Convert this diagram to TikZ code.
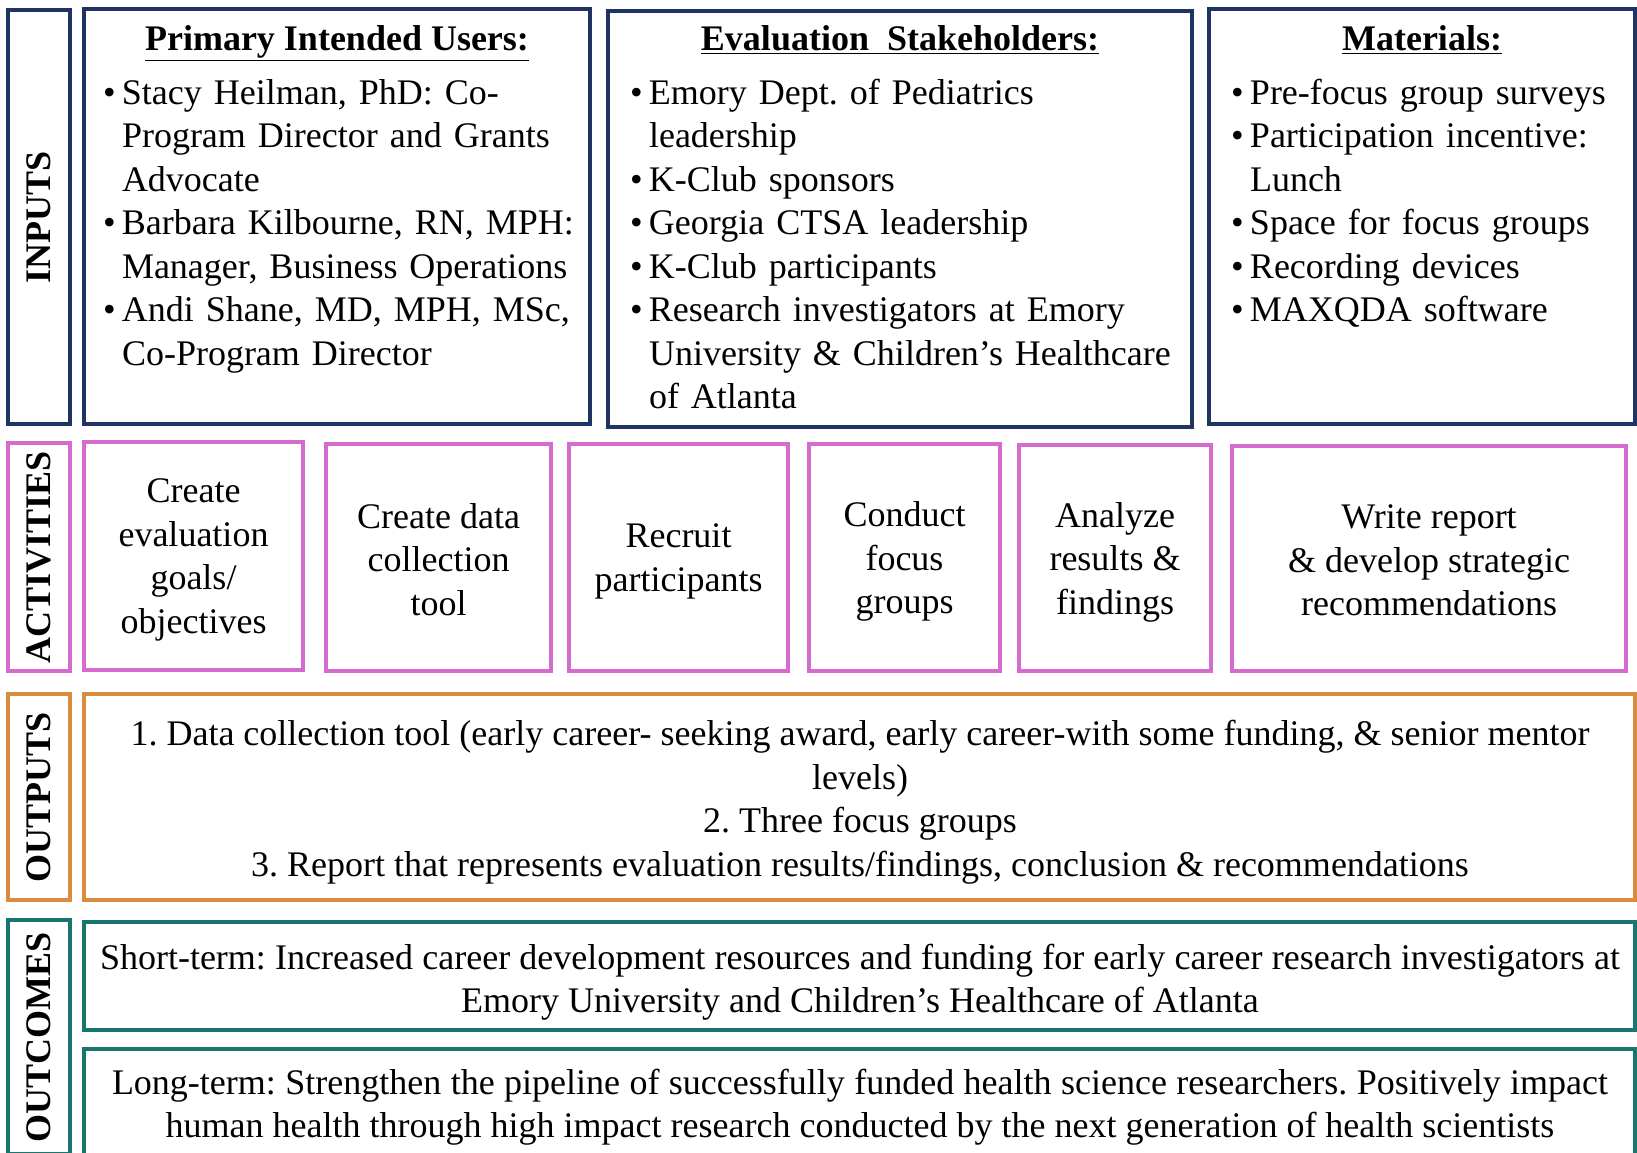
\documentclass[tikz,border=0pt]{standalone}
\usepackage{fontspec}
\setmainfont{Liberation Serif}
\definecolor{cnavy}{HTML}{1F3462}
\definecolor{cpink}{HTML}{D66BCF}
\definecolor{corange}{HTML}{D98B3E}
\definecolor{cteal}{HTML}{17776F}
\newcommand\bul[1]{\hangindent=9.5pt\hangafter=1\noindent\makebox[9.5pt][l]{\textbullet}#1\par}
\newcommand\nl{\hfil\break}
\newcommand\mkbox[6]{\node[#2, minimum width={(#5-#3)*0.5pt}, minimum height={(#6-#4)*0.5pt}] (#1) at ({(#3+#5)/2},{(#4+#6)/2}) {};}
\frenchspacing
\begin{document}
\begin{tikzpicture}[x=0.5pt,y=-0.5pt,
  frame/.style={draw=#1, line width=2pt, inner sep=0pt, outer sep=0pt, rectangle},
  txt/.style={font=\fontsize{18}{21.75}\selectfont\frenchspacing, inner sep=0pt, outer sep=0pt},
  lab/.style={txt, font=\fontsize{18}{21.75}\selectfont\bfseries, rotate=90},
  ttl/.style={txt, font=\fontsize{18}{21.75}\selectfont\bfseries, anchor=base},
  blist/.style={txt, anchor=north west, text width=#1},
  ctext/.style={txt, align=center}]
\useasboundingbox (0,0) rectangle (1637,1152);
\fill[white] (0,0) rectangle (1637,1152);
\clip (0,0) rectangle (1637,1152);
% ---------- INPUTS ----------
\mkbox{inl}{frame=cnavy}{8}{10}{70}{424}
\mkbox{pu}{frame=cnavy}{84}{9}{590}{424}
\mkbox{es}{frame=cnavy}{608}{11}{1192}{427}
\mkbox{ma}{frame=cnavy}{1209}{9}{1635}{424}
\node[lab] (inlt) at (inl.center) {INPUTS};
\node[ttl] (put) at (337,50) {\underline{Primary Intended Users:}};
\node[ttl] (est) at (900,50) {\underline{Evaluation\ \ Stakeholders:}};
\node[ttl] (mat) at (1422,50) {\underline{Materials:}};
\node[blist=245pt] (pul) at (103,74) {\raggedright\strut
\bul{Stacy Heilman, PhD: Co-\nl Program Director and Grants\nl Advocate}
\bul{Barbara Kilbourne, RN, MPH:\nl Manager, Business Operations}
\bul{Andi Shane, MD, MPH, MSc,\nl Co-Program Director}};
\node[blist=285pt] (esl) at (630,74) {\raggedright\strut
\bul{Emory Dept. of Pediatrics\nl leadership}
\bul{K-Club sponsors}
\bul{Georgia CTSA leadership}
\bul{K-Club participants}
\bul{Research investigators at Emory\nl University \& Children’s Healthcare\nl of Atlanta}};
\node[blist=205pt] (mal) at (1231,74) {\raggedright\strut
\bul{Pre-focus group surveys}
\bul{Participation incentive:\nl Lunch}
\bul{Space for focus groups}
\bul{Recording devices}
\bul{MAXQDA software}};
% ---------- ACTIVITIES ----------
\mkbox{acl}{frame=cpink}{8}{443}{70}{671}
\mkbox{a1}{frame=cpink}{84}{442}{303}{670}
\mkbox{a2}{frame=cpink}{326}{444}{551}{671}
\mkbox{a3}{frame=cpink}{569}{444}{788}{671}
\mkbox{a4}{frame=cpink}{809}{444}{1000}{671}
\mkbox{a5}{frame=cpink}{1019}{445}{1211}{671}
\mkbox{a6}{frame=cpink}{1232}{446}{1626}{671}
\node[lab] (aclt) at (acl.center) {ACTIVITIES};
\node[ctext] (a1t) at ([yshift=-2pt]a1.center) {Create\\evaluation\\goals/\\objectives};
\node[ctext] (a2t) at ([yshift=-1pt]a2.center) {Create data\\collection\\tool};
\node[ctext] (a3t) at ([yshift=-2pt]a3.center) {Recruit\\participants};
\node[ctext] (a4t) at ([yshift=-2pt]a4.center) {Conduct\\focus\\groups};
\node[ctext] (a5t) at ([yshift=-2pt]a5.center) {Analyze\\results \&\\findings};
\node[ctext] (a6t) at ([yshift=-1pt]a6.center) {Write report\\\& develop strategic\\recommendations};
% ---------- OUTPUTS ----------
\mkbox{oul}{frame=corange}{8}{694}{70}{900}
\mkbox{ou}{frame=corange}{84}{694}{1635}{900}
\node[lab] (oult) at (oul.center) {OUTPUTS};
\node[ctext] (out) at (860,802) {1. Data collection tool (early career- seeking award, early career-with some funding, \& senior mentor\\levels)\\2. Three focus groups\\3. Report that represents evaluation results/findings, conclusion \& recommendations};
% ---------- OUTCOMES ----------
\mkbox{ocl}{frame=cteal}{8}{920}{70}{1154}
\mkbox{st}{frame=cteal}{84}{922}{1635}{1030}
\mkbox{lt}{frame=cteal}{84}{1049}{1635}{1164}
\node[lab] (oclt) at (ocl.center) {OUTCOMES};
\node[ctext] (stt) at (860,982) {\makebox[760pt][s]{Short-term: Increased career development resources and funding for early career research investigators at}\\Emory University and Children’s Healthcare of Atlanta};
\node[ctext] (ltt) at (860,1107) {\makebox[748pt][s]{Long-term: Strengthen the pipeline of successfully funded health science researchers. Positively impact}\\human health through high impact research conducted by the next generation of health scientists};
\end{tikzpicture}
\end{document}
